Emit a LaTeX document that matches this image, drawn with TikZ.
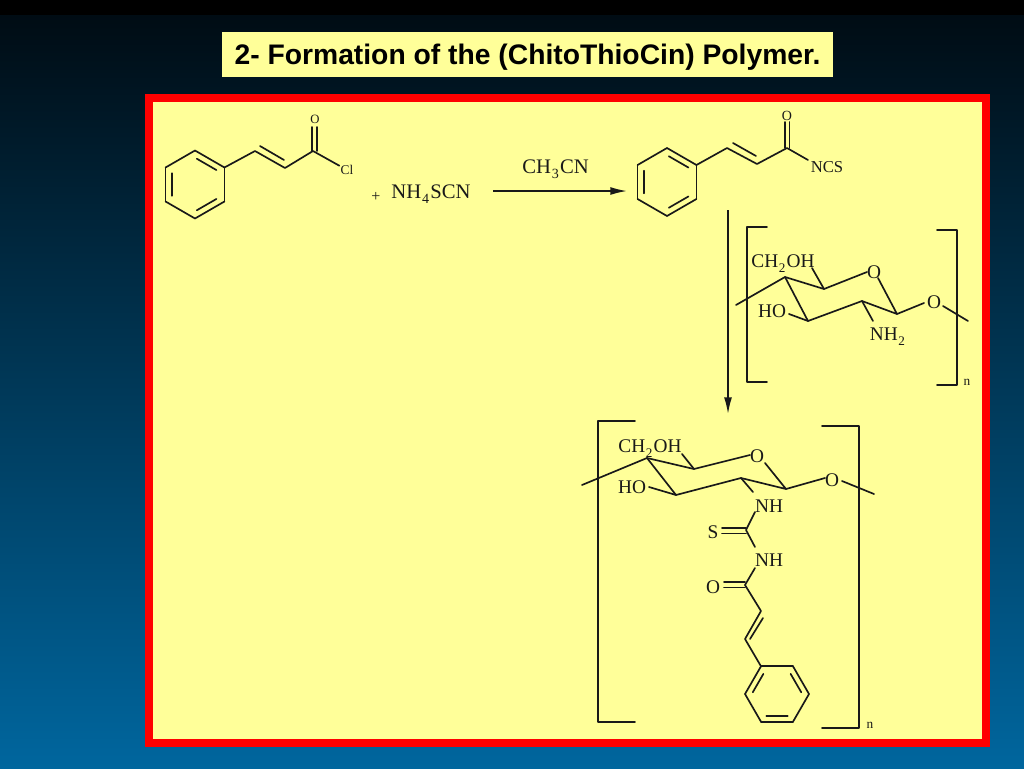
\documentclass[tikz,border=0pt]{standalone}
\usepackage{fontspec}
\setmainfont{Liberation Serif}
\newfontfamily\titlefont{Liberation Sans}
\usetikzlibrary{arrows.meta}
\definecolor{panelyellow}{HTML}{FFFF99}
\definecolor{seablue}{HTML}{00669E}
\definecolor{nightblue}{HTML}{000C14}
\newcommand{\lowsub}[1]{\kern.04em\raisebox{-.55ex}{\fontsize{.68em}{1em}\selectfont #1}\kern.06em}
\tikzset{
    bond/.style={line width=1.25pt,black!90,line cap=round,line join=round},
    reaction/.style={line width=1.25pt,black!90,-{Latex[length=12.5pt,width=6pt]}},
    atom/.style={inner sep=0.8pt,black!90,font=\fontsize{14.5}{16}\selectfont},
    small/.style={inner sep=0.8pt,black!90,font=\fontsize{10}{12}\selectfont},
    reagent/.style={inner sep=0pt,black!90,font=\fontsize{15.5}{18}\selectfont},
}
%% phenyl ring: name, centre, radius, corner angles, angles where an inner line starts
\newcommand{\phring}[5]{
    \begin{scope}[shift={(#2)}]
        \foreach \a in {#4} {
            \coordinate (#1-\a) at (\a:#3);
            \draw[bond] (\a:#3) -- ({\a+60}:#3);
        }
        \foreach \a in {#5} \draw[bond] ({\a+4}:{.76*#3}) -- ({\a+56}:{.76*#3});
    \end{scope}
}
\begin{document}
\begin{tikzpicture}[x=.75pt,y=-.75pt]
    \useasboundingbox (0,0) rectangle (1024,768);
    %% background
    \fill[black] (0,0) rectangle (1024,15);
    \shade[top color=nightblue,bottom color=seablue] (0,15) rectangle (1024,768);
    %% title
    \node[fill=panelyellow,minimum width=611*.75pt,minimum height=45*.75pt,inner sep=0pt,
        text depth=0pt,font=\titlefont\bfseries\fontsize{21.2}{24}\selectfont] (title) at (527.5,54.5)
        {2- Formation of the (ChitoThioCin) Polymer.};
    %% panel
    \draw[red,line width=6pt,fill=panelyellow] (149,98) rectangle (986,743);

    %% cinnamoyl chloride
    \phring{phA}{195,184.5}{34}{30,90,...,330}{30,150,270}
    \coordinate (chainA) at (255,151);
    \coordinate (chainB) at (285,168);
    \coordinate (carbA) at (313,151);
    \node[small,font=\fontsize{9.5}{12}\selectfont] (oxyA) at (315,119) {O};
    \node[small] (chlor) at (347,170) {Cl};
    \draw[bond] (phA-330) -- (chainA) -- (chainB) -- (carbA) -- (chlor);
    \draw[bond] (260,146) -- (284,160);
    \draw[bond] (312.2,151) -- (312.2,127);
    \draw[bond] (316.8,151) -- (316.8,127);

    %% reagent
    \node[reagent,font=\fontsize{12}{14}\selectfont] (plus) at (376,197) {+};
    \node[reagent] (thio) at (431,194.5) {NH\lowsub{4}SCN};
    \node[reagent] (solvent) at (555.5,169) {CH\lowsub{3}CN};
    \coordinate (arrowA) at (493,191);
    \coordinate (arrowB) at (627,191);
    \draw[reaction] (arrowA) -- (arrowB);

    %% cinnamoyl isothiocyanate
    \phring{phB}{667,182}{34}{30,90,...,330}{30,150,270}
    \coordinate (chainC) at (727,148);
    \coordinate (chainD) at (757,164);
    \coordinate (carbB) at (787,148);
    \node[small,font=\fontsize{10.5}{12}\selectfont] (oxyB) at (787,116) {O};
    \node[small,font=\fontsize{12.5}{14}\selectfont] (ncs) at (827,167) {NCS};
    \draw[bond] (phB-330) -- (chainC) -- (chainD) -- (carbB) -- (808,160);
    \draw[bond] (733,143) -- (756,156);
    \draw[bond] (785,148) -- (785,122);
    \draw[bond] (789.5,148) -- (789.5,122);

    %% second arrow
    \coordinate (arrowC) at (728,210);
    \coordinate (arrowD) at (728,414);
    \draw[reaction] (arrowC) -- (arrowD);

    %% chitosan unit
    \draw[bond] (767,227) -- (747,227) -- (747,382) -- (767,382);
    \draw[bond] (937,230) -- (957,230) -- (957,385) -- (937,385);
    \node[small] (unitA) at (967,382) {n};
    \coordinate (cA5) at (785,277);
    \coordinate (cA6) at (824,289);
    \coordinate (cA3) at (808,321);
    \coordinate (cA2) at (862,301);
    \coordinate (cA1) at (897,314);
    \node[atom] (oxyC) at (874,272) {O};
    \node[atom] (oxyD) at (934,302) {O};
    \node[atom] (ch2A) at (783,264) {CH\lowsub{2}OH};
    \node[atom] (hoA) at (772,311) {HO};
    \node[atom] (nh2) at (888,337) {NH\lowsub{2}};
    \draw[bond] (736,305) -- (cA5) -- (cA6) -- (867,272);
    \draw[bond] (878,278) -- (cA1) -- (cA2) -- (cA3) -- (cA5);
    \draw[bond] (cA1) -- (924,303);
    \draw[bond] (943,306) -- (968,321);
    \draw[bond] (812,268) -- (cA6);
    \draw[bond] (789,314) -- (cA3);
    \draw[bond] (cA2) -- (873,321);

    %% polymer unit
    \draw[bond] (635,421) -- (598,421) -- (598,722) -- (635,722);
    \draw[bond] (822,426) -- (859,426) -- (859,728) -- (822,728);
    \node[small] (unitB) at (870,725) {n};
    \coordinate (cB5) at (647,458);
    \coordinate (cB6) at (694,469);
    \coordinate (cB3) at (676,495);
    \coordinate (cB2) at (741,478);
    \coordinate (cB1) at (786,489);
    \node[atom] (oxyE) at (757,456) {O};
    \node[atom] (oxyF) at (832,480) {O};
    \node[atom] (ch2B) at (650,449) {CH\lowsub{2}OH};
    \node[atom] (hoB) at (632,487) {HO};
    \draw[bond] (582,485) -- (cB5) -- (cB6) -- (750,455);
    \draw[bond] (765,463) -- (cB1) -- (cB2) -- (cB3) -- (cB5);
    \draw[bond] (cB1) -- (825,478);
    \draw[bond] (842,481) -- (874,494);
    \draw[bond] (682,454) -- (cB6);
    \draw[bond] (649,487) -- (cB3);

    %% thiourea linker
    \coordinate (cS) at (746,530);
    \coordinate (cO) at (745,585);
    \node[atom] (nhA) at (769,506) {NH};
    \node[atom] (nhB) at (769,560) {NH};
    \node[atom] (sulf) at (713,532) {S};
    \node[atom] (oxyG) at (713,587) {O};
    \draw[bond] (cB2) -- (753,492);
    \draw[bond] (755,512) -- (cS) -- (755,547);
    \draw[bond] (755,568) -- (cO);
    \draw[bond] (722,528) -- (746,528);
    \draw[bond] (722,533.5) -- (746,533.5);
    \draw[bond] (724,582) -- (745,582);
    \draw[bond] (724,587.5) -- (745,587.5);

    %% cinnamoyl tail
    \coordinate (chainE) at (761,611);
    \coordinate (chainF) at (745,639);
    \phring{phC}{777,694}{32}{0,60,...,300}{60,180,300}
    \draw[bond] (cO) -- (chainE) -- (chainF) -- (phC-240);
    \draw[bond] (763,618) -- (750,639);
\end{tikzpicture}
\end{document}
